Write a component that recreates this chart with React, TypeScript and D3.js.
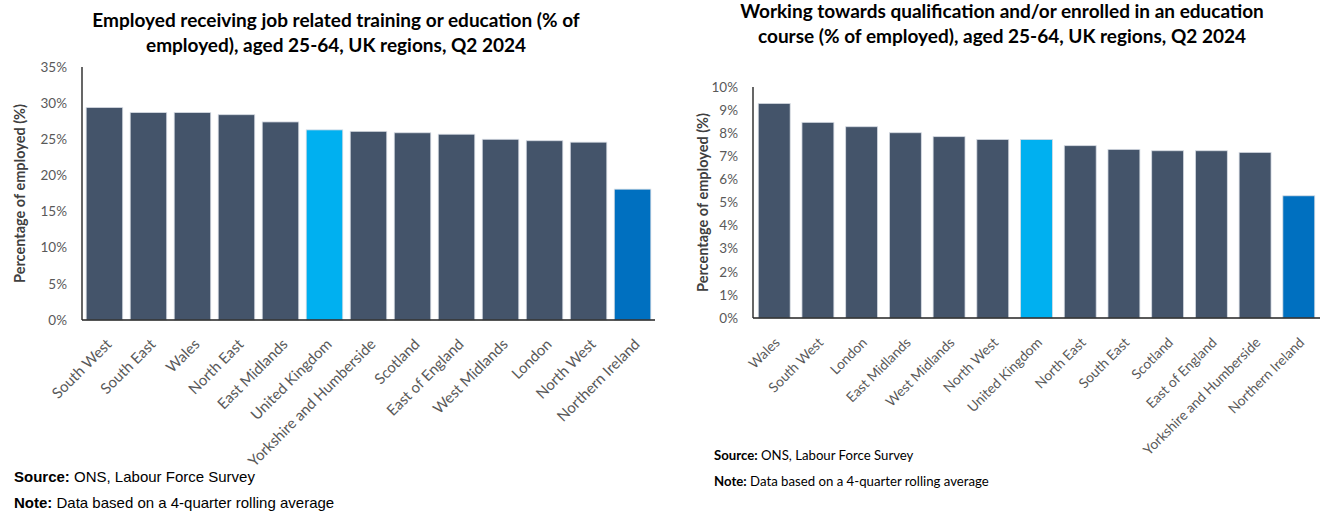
import React from "react";
import * as d3 from "d3";

// ---- Data ----
const leftCategories = [
  "South West", "South East", "Wales", "North East", "East Midlands",
  "United Kingdom", "Yorkshire and Humberside", "Scotland", "East of England",
  "West Midlands", "London", "North West", "Northern Ireland",
];
const leftValues = [29.4, 28.7, 28.7, 28.4, 27.4, 26.3, 26.1, 25.9, 25.7, 25.0, 24.8, 24.6, 18.1];
const leftTicks = [0, 5, 10, 15, 20, 25, 30, 35];

const rightCategories = [
  "Wales", "South West", "London", "East Midlands", "West Midlands", "North West",
  "United Kingdom", "North East", "South East", "Scotland", "East of England",
  "Yorkshire and Humberside", "Northern Ireland",
];
const rightValues = [9.29, 8.47, 8.28, 8.02, 7.85, 7.73, 7.73, 7.46, 7.30, 7.24, 7.24, 7.17, 5.29];
const rightTicks = [0, 1, 2, 3, 4, 5, 6, 7, 8, 9, 10];

const leftTitle = [
  "Employed receiving job related training or education (% of",
  "employed), aged 25-64, UK regions, Q2 2024",
];
const rightTitle = [
  "Working towards qualification and/or enrolled in an education",
  "course (% of employed), aged 25-64, UK regions, Q2 2024",
];
const yAxisLabel = "Percentage of employed (%)";
const sourceText = "ONS, Labour Force Survey";
const noteText = "Data based on a 4-quarter rolling average";

const COLOR_DEFAULT = "#44546A";
const COLOR_UK = "#00B0F0";
const COLOR_NI = "#0070C0";

function barColor(cat: string) {
  if (cat === "United Kingdom") return COLOR_UK;
  if (cat === "Northern Ireland") return COLOR_NI;
  return COLOR_DEFAULT;
}

const FONT = "Lato, 'Open Sans', sans-serif";

type ChartProps = {
  categories: string[];
  values: number[];
  ticks: number[];
  yMax: number;
  x0: number;
  x1: number;
  yTop: number;
  yBase: number;
  paddingInner: number;
  paddingOuter: number;
  tickLabelX: number;
  yLabelX: number;
  title: string[];
  titleX: number;
  titleY: number;
  titleSize: number;
  titleGap: number;
  tickFont: number;
  catFont: number;
  catDx: number;
  catDy: number;
};

function BarChart(p: ChartProps) {
  const x = d3
    .scaleBand<string>()
    .domain(p.categories)
    .range([p.x0, p.x1])
    .paddingInner(p.paddingInner)
    .paddingOuter(p.paddingOuter);
  const y = d3.scaleLinear().domain([0, p.yMax]).range([p.yBase, p.yTop]);
  const yMid = (p.yBase + p.yTop) / 2;
  return (
    <g>
      {p.title.map((t, i) => (
        <text
          key={i}
          x={p.titleX}
          y={p.titleY + i * p.titleGap}
          textAnchor="middle"
          fontFamily={FONT}
          fontWeight="bold"
          fontSize={p.titleSize}
          fill="#000"
        >
          {t}
        </text>
      ))}
      {p.ticks.map((t) => (
        <text
          key={t}
          x={p.tickLabelX}
          y={y(t)}
          dy="0.35em"
          textAnchor="end"
          fontFamily={FONT}
          fontSize={p.tickFont}
          fill="#595959"
        >
          {t + "%"}
        </text>
      ))}
      <text
        transform={`translate(${p.yLabelX},${yMid}) rotate(-90)`}
        textAnchor="middle"
        fontFamily={FONT}
        fontWeight="bold"
        fontSize={14.5}
        fill="#404040"
      >
        {yAxisLabel}
      </text>
      {p.categories.map((c, i) => (
        <rect
          key={c}
          x={x(c)!}
          y={y(p.values[i])}
          width={x.bandwidth()}
          height={p.yBase - y(p.values[i])}
          fill={barColor(c)}
          stroke="#d6dbe3"
          strokeWidth={0.8}
        />
      ))}
      <line x1={p.x0} x2={p.x0} y1={p.yTop} y2={p.yBase} stroke="#000" strokeWidth={1.2} />
      <line x1={p.x0} x2={p.x1} y1={p.yBase} y2={p.yBase} stroke="#222" strokeWidth={1.5} />
      {p.categories.map((c) => {
        const cx = x(c)! + x.bandwidth() / 2;
        return (
          <text
            key={c}
            transform={`translate(${cx + p.catDx},${p.yBase + p.catDy}) rotate(-45)`}
            textAnchor="end"
            dy="0.35em"
            fontFamily={FONT}
            fontSize={p.catFont}
            fill="#595959"
          >
            {c}
          </text>
        );
      })}
    </g>
  );
}

export default function App() {
  return (
    <svg
      width={1325}
      height={515}
      style={{ position: "absolute", left: 0, top: 0, background: "#fff" }}
    >
      <rect width={1325} height={515} fill="#fff" />
      <BarChart
        categories={leftCategories}
        values={leftValues}
        ticks={leftTicks}
        yMax={35}
        x0={82}
        x1={655}
        yTop={67}
        yBase={320}
        paddingInner={0.17}
        paddingOuter={0.095}
        tickLabelX={67}
        yLabelX={25}
        title={leftTitle}
        titleX={336}
        titleY={27}
        titleSize={19}
        titleGap={25}
        tickFont={13.5}
        catFont={15}
        catDx={4.5}
        catDy={21.5}
      />
      <BarChart
        categories={rightCategories}
        values={rightValues}
        ticks={rightTicks}
        yMax={10}
        x0={753}
        x1={1320}
        yTop={87}
        yBase={318}
        paddingInner={0.27}
        paddingOuter={0.12}
        tickLabelX={738}
        yLabelX={708}
        title={rightTitle}
        titleX={1002}
        titleY={18}
        titleSize={19}
        titleGap={25}
        tickFont={13.5}
        catFont={13.8}
        catDx={3}
        catDy={22}
      />
      {/* Left footnotes */}
      <text x={14} y={482} fontFamily="'Liberation Sans', Arial, sans-serif" fontSize={15} fill="#000">
        <tspan fontWeight="bold">Source:</tspan>
        <tspan> {sourceText}</tspan>
      </text>
      <text x={14} y={508} fontFamily="'Liberation Sans', Arial, sans-serif" fontSize={15} fill="#000">
        <tspan fontWeight="bold">Note:</tspan>
        <tspan> {noteText}</tspan>
      </text>
      {/* Right footnotes */}
      <text x={714} y={460} fontFamily={FONT} fontSize={13.2} fill="#000">
        <tspan fontWeight="bold">Source:</tspan>
        <tspan> {sourceText}</tspan>
      </text>
      <text x={714} y={486} fontFamily={FONT} fontSize={13.2} fill="#000">
        <tspan fontWeight="bold">Note:</tspan>
        <tspan> {noteText}</tspan>
      </text>
    </svg>
  );
}
